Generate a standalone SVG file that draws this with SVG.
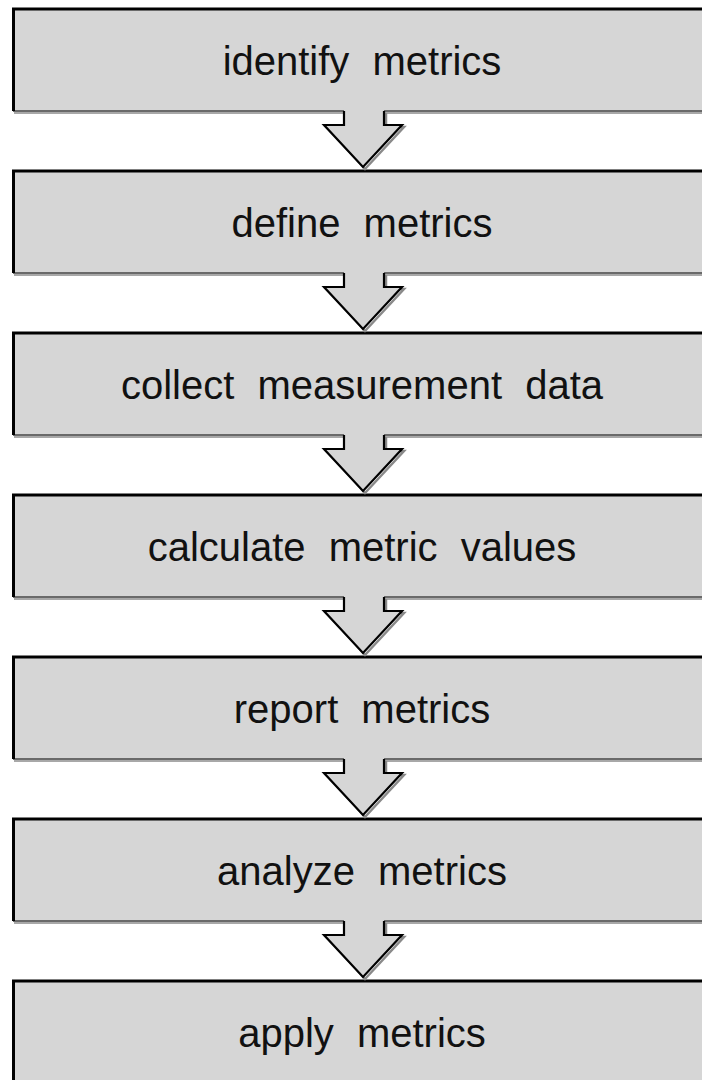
<svg xmlns="http://www.w3.org/2000/svg" width="702" height="1080" viewBox="0 0 702 1080">
  <style>
    .box { fill: #d6d6d6; }
    .edge { stroke: #000; stroke-width: 3; fill: none; }
    .base1 { stroke: #6a6a6a; stroke-width: 2; }
    .base2 { stroke: #a8a8a8; stroke-width: 2; }
    .label { font-family: "Liberation Sans", Arial, sans-serif; font-size: 40px; fill: #111; text-anchor: middle; word-spacing: 12px; }
    .arrow-fill { fill: #d6d6d6; stroke: none; }
    .arrow-line { fill: none; stroke: #000; stroke-width: 2.2; stroke-linejoin: miter; }
    .arrow-shadow { fill: none; stroke: #8a8a8a; stroke-width: 2.5; }
  </style>
  <defs>
    <!-- one process step: box open to the right, dark top/left edge, grey base -->
    <g id="stepBox">
      <rect class="box" x="13.5" y="0" width="700" height="102"/>
      <line class="base1" x1="13" y1="102" x2="702" y2="102"/>
      <line class="base2" x1="14" y1="104" x2="702" y2="104"/>
      <path class="edge" d="M13.5,102 V0 H702"/>
    </g>
    <!-- down arrow between steps; origin at box base -->
    <g id="downArrow">
      <path class="arrow-shadow" d="M346,2 V16 H327 L365,58 L404,16 H386 V2"/>
      <path class="arrow-fill" d="M344,-1 V14 H324 L363,56 L402,14 H384 V-1 Z"/>
      <path class="arrow-line" d="M344,0 V14 H324 L363,56 L402,14 H384 V0"/>
    </g>
  </defs>

  <g id="node-identify" transform="translate(0,9)">
    <use href="#stepBox"/>
    <text class="label" x="362" y="66">identify metrics</text>
  </g>
  <g id="node-define" transform="translate(0,171)">
    <use href="#stepBox"/>
    <text class="label" x="362" y="66">define metrics</text>
  </g>
  <g id="node-collect" transform="translate(0,333)">
    <use href="#stepBox"/>
    <text class="label" x="362" y="66">collect measurement data</text>
  </g>
  <g id="node-calculate" transform="translate(0,495)">
    <use href="#stepBox"/>
    <text class="label" x="362" y="66">calculate metric values</text>
  </g>
  <g id="node-report" transform="translate(0,657)">
    <use href="#stepBox"/>
    <text class="label" x="362" y="66">report metrics</text>
  </g>
  <g id="node-analyze" transform="translate(0,819)">
    <use href="#stepBox"/>
    <text class="label" x="362" y="66">analyze metrics</text>
  </g>
  <g id="node-apply" transform="translate(0,981)">
    <rect class="box" x="13.5" y="0" width="700" height="120"/>
    <path class="edge" d="M13.5,120 V0 H702"/>
    <text class="label" x="362" y="66">apply metrics</text>
  </g>

  <g id="connectors">
    <use href="#downArrow" transform="translate(0,111)"/>
    <use href="#downArrow" transform="translate(0,273)"/>
    <use href="#downArrow" transform="translate(0,435)"/>
    <use href="#downArrow" transform="translate(0,597)"/>
    <use href="#downArrow" transform="translate(0,759)"/>
    <use href="#downArrow" transform="translate(0,921)"/>
  </g>
</svg>
